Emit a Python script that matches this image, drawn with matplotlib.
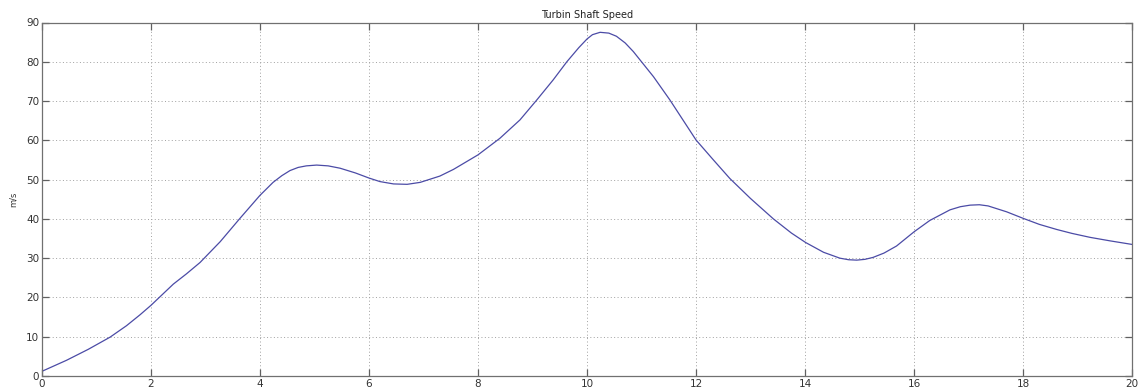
import matplotlib
matplotlib.use("Agg")
import matplotlib.pyplot as plt

time_s = [0.0, 0.45, 0.85, 1.25, 1.55, 1.8, 2.0, 2.41, 2.65, 2.9, 3.27, 3.63, 4.0, 4.24,
          4.4, 4.55, 4.7, 4.85, 5.04, 5.25, 5.47, 5.75, 6.0, 6.2, 6.45, 6.7, 6.94,
          7.3, 7.55, 8.0, 8.4, 8.77, 9.08, 9.38, 9.63, 9.85, 10.0, 10.1, 10.24, 10.4,
          10.54, 10.7, 10.85, 11.22, 11.52, 12.0, 12.32, 12.62, 13.0, 13.42,
          13.75, 14.01, 14.34, 14.64, 14.8, 14.95, 15.1, 15.25, 15.45, 15.68, 16.0,
          16.29, 16.66, 16.85, 17.03, 17.2, 17.36, 17.7, 18.01, 18.3, 18.62, 18.9,
          19.23, 19.6, 20.0]
speed = [1.2, 4.0, 6.8, 9.9, 12.8, 15.6, 18.0, 23.4, 26.0, 28.9, 34.2, 40.1, 46.0, 49.3,
         51.0, 52.3, 53.1, 53.5, 53.7, 53.5, 52.9, 51.7, 50.4, 49.5, 48.9, 48.8, 49.3,
         50.9, 52.6, 56.3, 60.5, 65.2, 70.3, 75.4, 80.0, 83.6, 85.8, 86.9, 87.5, 87.3,
         86.5, 84.8, 82.6, 76.2, 70.3, 60.1, 55.0, 50.3, 45.2, 40.0,
         36.4, 34.0, 31.5, 30.0, 29.6, 29.5, 29.7, 30.2, 31.3, 33.1, 36.7,
         39.6, 42.3, 43.1, 43.5, 43.6, 43.3, 41.8, 40.1, 38.6, 37.3, 36.3,
         35.3, 34.4, 33.5]
x_ticks = [0, 2, 4, 6, 8, 10, 12, 14, 16, 18, 20]
y_ticks = [0, 10, 20, 30, 40, 50, 60, 70, 80, 90]

fig = plt.figure(figsize=(11.38, 3.91), dpi=100)
ax = fig.add_axes([42/1138, 15/391, 1090/1138, 353.5/391])
ax.plot(time_s, speed, color='#4b4ba6', linewidth=0.9)
ax.set_xlim(0, 20)
ax.set_ylim(0, 90)
ax.set_xticks(x_ticks)
ax.set_yticks(y_ticks)
ax.grid(True, linestyle=(0, (1, 2.5)), color='#a0a0a0', linewidth=0.7)
ax.tick_params(direction='in', top=True, right=True, length=5, width=0.9,
               colors='#606060', labelsize=7.5, labelcolor='#333333', pad=2)
for s in ax.spines.values():
    s.set_color('#707070')
    s.set_linewidth(0.9)
ax.set_title('Turbin Shaft Speed', fontsize=7, color='#222222', pad=3)
ax.set_ylabel('m/s', fontsize=6, color='#333333', labelpad=6)
fig.savefig('out.png', dpi=100)
